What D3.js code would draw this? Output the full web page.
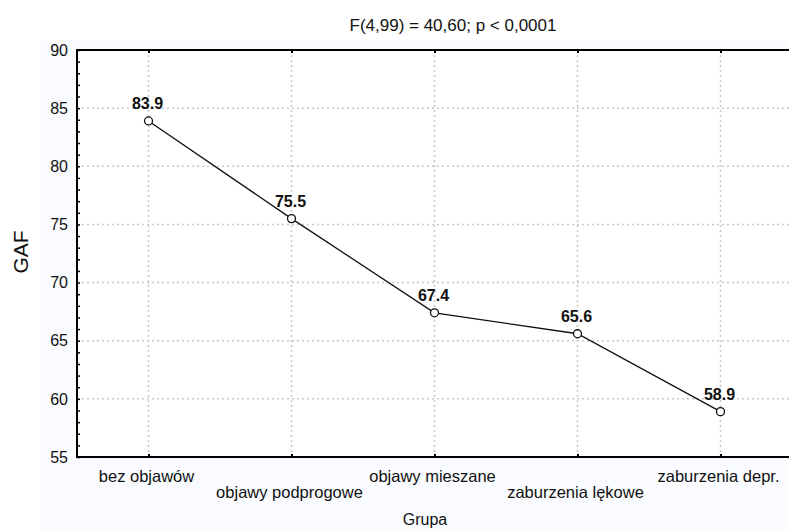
<!DOCTYPE html>
<html lang="pl">
  <head>
    <meta charset="utf-8" />
    <title>GAF wg grupy</title>
    <script src="https://cdn.jsdelivr.net/npm/d3@7"></script>
    <style>
      body { margin: 0; background: #fff; }
      text { font-family: "Liberation Sans", Arial, sans-serif; fill: #111; }
    </style>
  </head>
  <body>
    <div id="chart"></div>
    <script type="text/javascript">
      // data
      const groups = ["bez objawów", "objawy podprogowe", "objawy mieszane", "zaburzenia lękowe", "zaburzenia depr."];
      const gafMeans = [83.9, 75.5, 67.4, 65.6, 58.9];
      const yTicks = [55, 60, 65, 70, 75, 80, 85, 90];
      const title = "F(4,99) = 40,60; p < 0,0001";

      const width = 789, height = 530;
      const plotL = 77, plotR = 792, plotT = 50, plotB = 457;

      const svg = d3.select("#chart").append("svg")
        .attr("width", width).attr("height", height);

      // faint tinted panel behind the axes
      svg.append("rect").attr("x", 40).attr("y", 40)
        .attr("width", width - 40).attr("height", height - 40)
        .attr("fill", "#f9fbfe");
      svg.append("rect").attr("x", plotL).attr("y", plotT)
        .attr("width", plotR - plotL).attr("height", plotB - plotT)
        .attr("fill", "#fff");

      const x = d3.scalePoint().domain(groups).range([plotL, plotR]).padding(0.5);
      const y = d3.scaleLinear().domain([55, 90]).range([plotB, plotT]);

      // dotted grid
      const grid = svg.append("g").attr("stroke", "#c8c8c8").attr("stroke-width", 1.5)
        .attr("stroke-dasharray", "2,3");
      grid.selectAll("line.h").data(yTicks.filter(d => d > 55 && d < 90)).join("line")
        .attr("class", "h")
        .attr("x1", plotL).attr("x2", plotR)
        .attr("y1", d => y(d)).attr("y2", d => y(d));
      grid.selectAll("line.v").data(groups).join("line")
        .attr("class", "v")
        .attr("x1", d => x(d)).attr("x2", d => x(d))
        .attr("y1", plotT).attr("y2", plotB);

      // left axis with inside ticks, minor every 1
      const yAxis = svg.append("g").attr("transform", `translate(${plotL},0)`)
        .call(d3.axisRight(y).ticks(35).tickSize(3).tickFormat(""));
      yAxis.select(".domain").remove();
      yAxis.selectAll("line").attr("stroke", "#000").attr("stroke-width", 1.5);

      svg.append("g").selectAll("text").data(yTicks).join("text")
        .attr("x", 68).attr("y", d => y(d)).attr("dy", "0.36em")
        .attr("text-anchor", "end").attr("font-size", 16)
        .text(d => d);

      // category ticks on bottom and top
      const bAxis = svg.append("g").attr("transform", `translate(0,${plotB})`)
        .call(d3.axisTop(x).tickSize(3).tickFormat(""));
      bAxis.select(".domain").remove();
      bAxis.selectAll("line").attr("stroke", "#000").attr("stroke-width", 2);
      const tAxis = svg.append("g").attr("transform", `translate(0,${plotT})`)
        .call(d3.axisBottom(x).tickSize(3).tickFormat(""));
      tAxis.select(".domain").remove();
      tAxis.selectAll("line").attr("stroke", "#000").attr("stroke-width", 2);

      // frame
      svg.append("rect").attr("x", plotL).attr("y", plotT)
        .attr("width", plotR - plotL).attr("height", plotB - plotT)
        .attr("fill", "none").attr("stroke", "#000").attr("stroke-width", 2);

      // category labels, staggered in two rows
      svg.append("g").selectAll("text").data(groups).join("text")
        .attr("x", d => x(d) - 2)
        .attr("y", (d, i) => i % 2 === 0 ? 482 : 498)
        .attr("text-anchor", "middle").attr("font-size", 16.5)
        .text(d => d);

      // line and markers
      const pts = groups.map((g, i) => [x(g), y(gafMeans[i])]);
      svg.append("path").attr("d", d3.line()(pts))
        .attr("fill", "none").attr("stroke", "#111").attr("stroke-width", 1.3);
      svg.append("g").selectAll("circle").data(pts).join("circle")
        .attr("cx", d => d[0]).attr("cy", d => d[1]).attr("r", 4)
        .attr("fill", "#fff").attr("stroke", "#111").attr("stroke-width", 1.3);

      svg.append("g").selectAll("text").data(gafMeans).join("text")
        .attr("x", (d, i) => x(groups[i]) - 1)
        .attr("y", d => y(d) - 12)
        .attr("text-anchor", "middle").attr("font-size", 16).attr("font-weight", "bold")
        .text(d => d.toFixed(1));

      // titles
      svg.append("text").attr("x", 453).attr("y", 31)
        .attr("text-anchor", "middle").attr("font-size", 17)
        .text(title);
      svg.append("text").attr("x", 425).attr("y", 525)
        .attr("text-anchor", "middle").attr("font-size", 16)
        .text("Grupa");
      svg.append("text")
        .attr("transform", `translate(28,252) rotate(-90)`)
        .attr("text-anchor", "middle").attr("font-size", 21)
        .text("GAF");
    </script>
  </body>
</html>
